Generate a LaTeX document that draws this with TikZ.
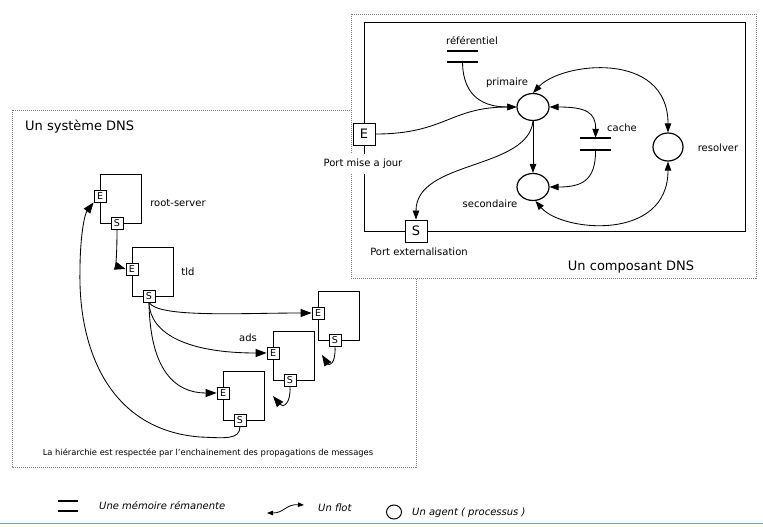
\documentclass[tikz,border=0pt]{standalone}
\usepackage{fontspec}
\setmainfont{DejaVu Sans}
\usetikzlibrary{arrows.meta,shapes.geometric}
\definecolor{teal2}{RGB}{96,170,180}
\tikzset{
  lbl/.style={font=\fontsize{10}{12}\selectfont, inner sep=1pt},
  big/.style={font=\fontsize{13}{15}\selectfont, inner sep=1pt},
  small/.style={font=\fontsize{8.35}{10}\selectfont, inner sep=1pt},
  legtxt/.style={font=\fontsize{10}{12}\selectfont\itshape, inner sep=0pt, anchor=west},
  agent/.style={ellipse, draw, line width=1.2pt, minimum width=32pt, minimum height=27pt, inner sep=0pt},
  port/.style={draw, fill=white, line width=0.9pt, minimum size=22pt, inner sep=0pt, font=\fontsize{13}{13}\selectfont},
  sport/.style={draw, fill=white, line width=0.8pt, minimum size=12pt, inner sep=0pt, font=\fontsize{9.5}{10}\selectfont},
  modbox/.style={draw, line width=1pt, minimum width=41pt, minimum height=49pt, inner sep=0pt},
  memory/.style={minimum width=31pt, minimum height=11pt, inner sep=0pt},
  bar/.style={line width=2pt},
  flow/.style={-{Triangle[length=9pt,width=6.5pt]}, line width=0.85pt},
  bflow/.style={{Triangle[length=9pt,width=6.5pt]}-{Triangle[length=9pt,width=6.5pt]}, line width=0.85pt},
  bigflow/.style={-{Triangle[length=11pt,width=8pt]}, line width=0.85pt},
  dotbox/.style={draw=black!50, dash pattern=on 1pt off 1pt, line width=0.7pt},
}
\begin{document}
\begin{tikzpicture}[x=1pt,y=-1pt]
\useasboundingbox (0,0) rectangle (763,527);

% ---------- Un système DNS ----------
\draw[dotbox] (12,110) rectangle (416,467);
\node[big, anchor=west] (systitle) at (24,127) {Un système DNS};

\node[modbox] (root) at (120.5,198.5) {};
\node[modbox] (tld) at (152.5,271.5) {};
\node[modbox] (m3) at (338.5,315.5) {};
\node[modbox] (ads) at (293.5,355.5) {};
\node[modbox] (bot) at (243.5,395.5) {};

\node[sport] (rootE) at (100,196) {E};
\node[sport] (rootS) at (117,223) {S};
\node[sport] (tldE) at (132,269) {E};
\node[sport] (tldS) at (149,296) {S};
\node[sport] (m3E) at (318,313) {E};
\node[sport] (m3S) at (335,340) {S};
\node[sport] (adsE) at (273,353) {E};
\node[sport] (adsS) at (290,380) {S};
\node[sport] (botE) at (223,393) {E};
\node[sport] (botS) at (240,420) {S};

\node[lbl] (rootlbl) at (178,203) {root-server};
\node[lbl] (tldlbl) at (188,272) {tld};
\node[lbl] (adslbl) at (248,338) {ads};

\coordinate (m3end) at (322,355);
\coordinate (adsend) at (273,396);

\draw[bigflow] (rootS.south) .. controls (117,252) and (116,266) .. (tldE.west);
\draw[bigflow] (tldS.south) .. controls (158,318) and (240,313) .. (m3E.west);
\draw[bigflow] (tldS.south) .. controls (150,335) and (190,353) .. (adsE.west);
\draw[bigflow] (tldS.south) .. controls (150,370) and (175,393) .. (botE.west);
\draw[bigflow] (botS.south) .. controls (240,440) and (225,438) .. (200,437)
   .. controls (110,430) and (78,350) .. (80,270)
   .. controls (80,240) and (84,215) .. (rootE.south west);
\draw[bigflow] (m3S.south) .. controls (336,364) and (329,366) .. (m3end);
\draw[bigflow] (adsS.south) .. controls (291,404) and (283,408) .. (adsend);

\node[small] (hier) at (208,453) {La hiérarchie est respectée par l'enchainement des propagations de messages};

% ---------- Un composant DNS ----------
\draw[dotbox, fill=white] (351,14) rectangle (756,278);
\draw[line width=1pt] (364,23) rectangle (745,231);

\node[port] (E) at (364,134) {E};
\node[port] (S) at (416,231) {S};
\node[lbl, fill=white, inner ysep=5pt] (Elbl) at (363,164) {Port mise a jour};
\node[lbl] (Slbl) at (419,252) {Port externalisation};
\node[big] (comptitle) at (631,267) {Un composant DNS};

\node[memory] (ref) at (462.5,56.5) {};
\draw[bar] (ref.north west) -- (ref.north east);
\draw[bar] (ref.south west) -- (ref.south east);
\node[lbl] (reflbl) at (472,41) {référentiel};

\node[memory, minimum height=12pt] (cache) at (595.5,144) {};
\draw[bar] (cache.north west) -- (cache.north east);
\draw[bar] (cache.south west) -- (cache.south east);
\node[lbl] (cachelbl) at (622,128) {cache};

\node[agent] (prim) at (533,107) {};
\node[lbl] (primlbl) at (507,83) {primaire};
\node[agent] (sec) at (533,187) {};
\node[lbl] (seclbl) at (490,204) {secondaire};
\node[agent, minimum width=30pt, minimum height=28pt] (res) at (668,147) {};
\node[lbl] (reslbl) at (718,148) {resolver};

\draw[flow] (ref.south) .. controls (463,98) and (485,107) .. (prim.west);
\draw[flow] (E.east) .. controls (445,134) and (450,107) .. (prim.west);
\draw[flow] (prim.south) -- (sec.north);
\draw[flow] (prim.south) .. controls (528,170) and (416,160) .. (S.north);
\draw[bflow] (prim.east) .. controls (585,107) and (596,112) .. (cache.north);
\draw[flow] (cache.south) .. controls (596,182) and (580,187) .. (sec.east);
\draw[bflow] (prim.north) .. controls (562,62) and (668,50) .. (res.north);
\draw[bflow] (sec.-80) .. controls (562,232) and (668,242) .. (res.south);

% ---------- Légende ----------
\node[memory, minimum width=20pt, minimum height=10pt] (lmem) at (68,506) {};
\draw[bar] (lmem.north west) -- (lmem.north east);
\draw[bar] (lmem.south west) -- (lmem.south east);
\node[legtxt] (lmemtxt) at (99,506) {Une mémoire rémanente};

\coordinate (lfa) at (267,513);
\coordinate (lfb) at (304,505);
\draw[{Triangle[length=6pt,width=4.5pt]}-{Triangle[length=6pt,width=4.5pt]}, line width=0.8pt]
   (lfa) .. controls (284,513) and (286,504) .. (lfb);
\node[legtxt] (lflowtxt) at (318,508) {Un flot};

\node[ellipse, draw, line width=1pt, minimum width=15pt, minimum height=14pt, inner sep=0pt] (lagent) at (394,512) {};
\node[legtxt] (lagenttxt) at (412,513) {Un agent ( processus )};

\draw[teal2, line width=1.5pt] (0,523.5) -- (763,523.5);
\end{tikzpicture}
\end{document}
